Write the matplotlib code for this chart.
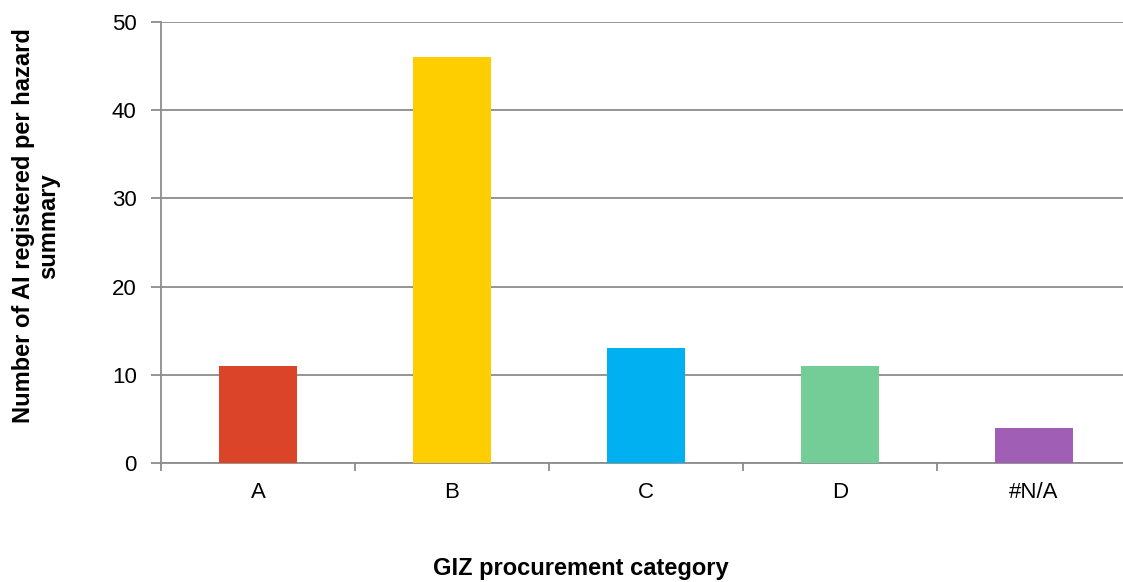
import matplotlib
matplotlib.use("Agg")
import matplotlib.pyplot as plt

categories = ["A", "B", "C", "D", "#N/A"]
values = [11, 46, 13, 11, 4]
colors = ["#DC4429", "#FECE00", "#00B0F0", "#74CC97", "#A05EB5"]

plt.rcParams['font.family'] = ['Liberation Sans', 'DejaVu Sans']

W, H = 1123, 582
fig = plt.figure(figsize=(W / 100, H / 100), dpi=100)
left, right, top, bottom = 161, 1131, 22, 463
ax = fig.add_axes([left / W, 1 - bottom / H, (right - left) / W, (bottom - top) / H])

x = list(range(len(categories)))
ax.bar(x, values, width=0.4, color=colors, zorder=3)
ax.set_xlim(-0.5, len(categories) - 0.5)
ax.set_ylim(0, 50)
ax.set_yticks([0, 10, 20, 30, 40, 50])
ax.yaxis.grid(True, color="#8c8c8c", linewidth=1.3, zorder=0)
ax.set_axisbelow(True)

ax.set_xticks(x)
ax.set_xticklabels(categories, fontsize=16)
ax.set_xticks([i + 0.5 for i in range(-1, len(categories))], minor=True)
ax.tick_params(axis='x', which='major', length=0, pad=14)
ax.tick_params(axis='x', which='minor', length=6, color="#8c8c8c", width=1.3)
ax.tick_params(axis='y', length=7, color="#8c8c8c", width=1.3, labelsize=16, pad=10.5)

for s in ["top", "right"]:
    ax.spines[s].set_visible(False)
for s in ["left", "bottom"]:
    ax.spines[s].set_color("#8c8c8c")
    ax.spines[s].set_linewidth(1.3)

fig.text(36 / W, 1 - 226 / H, "Number of AI registered per hazard\nsummary",
         rotation=90, ha="center", va="center", multialignment="center",
         fontsize=17, fontweight="bold", linespacing=1.15)
fig.text(581 / W, 1 - 575 / H, "GIZ procurement category", ha="center", va="baseline",
         fontsize=17, fontweight="bold")

fig.savefig("out.png", dpi=100)
